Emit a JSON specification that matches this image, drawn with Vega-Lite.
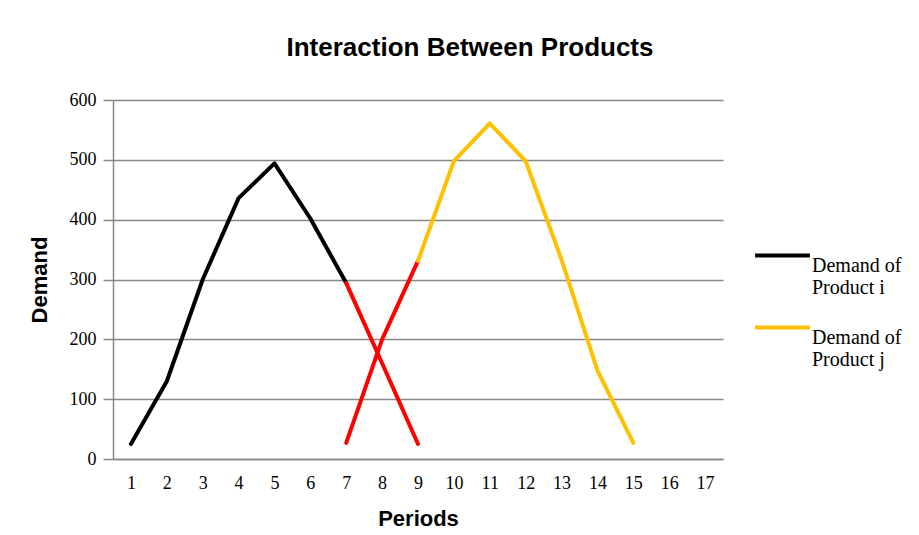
{
  "$schema": "https://vega.github.io/schema/vega-lite/v6.json",
  "width": 610,
  "height": 359,
  "autosize": "none",
  "padding": {"left": 113, "top": 100, "right": 196, "bottom": 76},
  "background": "white",
  "title": {
    "text": "Interaction Between Products",
    "font": "Liberation Sans",
    "fontSize": 26,
    "fontWeight": "bold",
    "color": "#000000",
    "anchor": "middle",
    "frame": "group",
    "dx": 52,
    "offset": 30
  },
  "data": {
    "values": [
      {"period": 1, "demand": 25, "series": "Demand of Product i", "seg": "i1"},
      {"period": 2, "demand": 130, "series": "Demand of Product i", "seg": "i1"},
      {"period": 3, "demand": 300, "series": "Demand of Product i", "seg": "i1"},
      {"period": 4, "demand": 436, "series": "Demand of Product i", "seg": "i1"},
      {"period": 5, "demand": 494, "series": "Demand of Product i", "seg": "i1"},
      {"period": 6, "demand": 402, "series": "Demand of Product i", "seg": "i1"},
      {"period": 7, "demand": 294, "series": "Demand of Product i", "seg": "i1"},
      {"period": 7, "demand": 294, "series": "Overlap", "seg": "i2"},
      {"period": 8, "demand": 160, "series": "Overlap", "seg": "i2"},
      {"period": 9, "demand": 25, "series": "Overlap", "seg": "i2"},
      {"period": 7, "demand": 27, "series": "Overlap", "seg": "j1"},
      {"period": 8, "demand": 200, "series": "Overlap", "seg": "j1"},
      {"period": 9, "demand": 331, "series": "Overlap", "seg": "j1"},
      {"period": 9, "demand": 331, "series": "Demand of Product j", "seg": "j2"},
      {"period": 10, "demand": 498, "series": "Demand of Product j", "seg": "j2"},
      {"period": 11, "demand": 561, "series": "Demand of Product j", "seg": "j2"},
      {"period": 12, "demand": 498, "series": "Demand of Product j", "seg": "j2"},
      {"period": 13, "demand": 333, "series": "Demand of Product j", "seg": "j2"},
      {"period": 14, "demand": 148, "series": "Demand of Product j", "seg": "j2"},
      {"period": 15, "demand": 27, "series": "Demand of Product j", "seg": "j2"}
    ]
  },
  "mark": {"type": "line", "strokeWidth": 4, "strokeCap": "round", "strokeJoin": "round"},
  "encoding": {
    "x": {
      "field": "period",
      "type": "ordinal",
      "scale": {"type": "point", "domain": [1,2,3,4,5,6,7,8,9,10,11,12,13,14,15,16,17], "padding": 0.5},
      "axis": {
        "title": "Periods",
        "titleFont": "Liberation Sans",
        "titleFontSize": 22,
        "titleFontWeight": "bold",
        "titleColor": "#000000",
        "titlePadding": 16,
        "labelFont": "Liberation Serif",
        "labelFontSize": 18,
        "labelColor": "#000000",
        "labelAngle": 0,
        "labelPadding": 15,
        "ticks": false,
        "domainColor": "#888888",
        "domainWidth": 1.5,
        "grid": false
      }
    },
    "y": {
      "field": "demand",
      "type": "quantitative",
      "scale": {"domain": [0, 600], "nice": false},
      "axis": {
        "title": "Demand",
        "titleFont": "Liberation Sans",
        "titleFontSize": 22,
        "titleFontWeight": "bold",
        "titleColor": "#000000",
        "titlePadding": 18,
        "labelFont": "Liberation Serif",
        "labelFontSize": 18,
        "labelColor": "#000000",
        "labelPadding": 7,
        "values": [0, 100, 200, 300, 400, 500, 600],
        "tickColor": "#888888",
        "tickSize": 10,
        "tickWidth": 1.5,
        "domainColor": "#888888",
        "domainWidth": 1.5,
        "grid": true,
        "gridColor": "#888888",
        "gridWidth": 1.5
      }
    },
    "detail": {"field": "seg"},
    "color": {
      "field": "series",
      "type": "nominal",
      "scale": {
        "domain": ["Demand of Product i", "Demand of Product j", "Overlap"],
        "range": ["#000000", "#FFC000", "#FF0000"]
      },
      "legend": {
        "title": null,
        "values": ["Demand of Product i", "Demand of Product j"],
        "orient": "none",
        "legendX": 640,
        "legendY": 126,
        "symbolType": "stroke",
        "symbolSize": 3000,
        "symbolStrokeWidth": 4,
        "labelFont": "Liberation Serif",
        "labelFontSize": 20,
        "labelColor": "#000000",
        "labelOffset": 0,
        "labelLimit": 200,
        "labelBaseline": "top",
        "rowPadding": -2,
        "labelExpr": "datum.label == 'Demand of Product i' ? ['Demand of', 'Product i'] : ['Demand of', 'Product j']"
      }
    }
  },
  "config": {"view": {"stroke": null}}
}
